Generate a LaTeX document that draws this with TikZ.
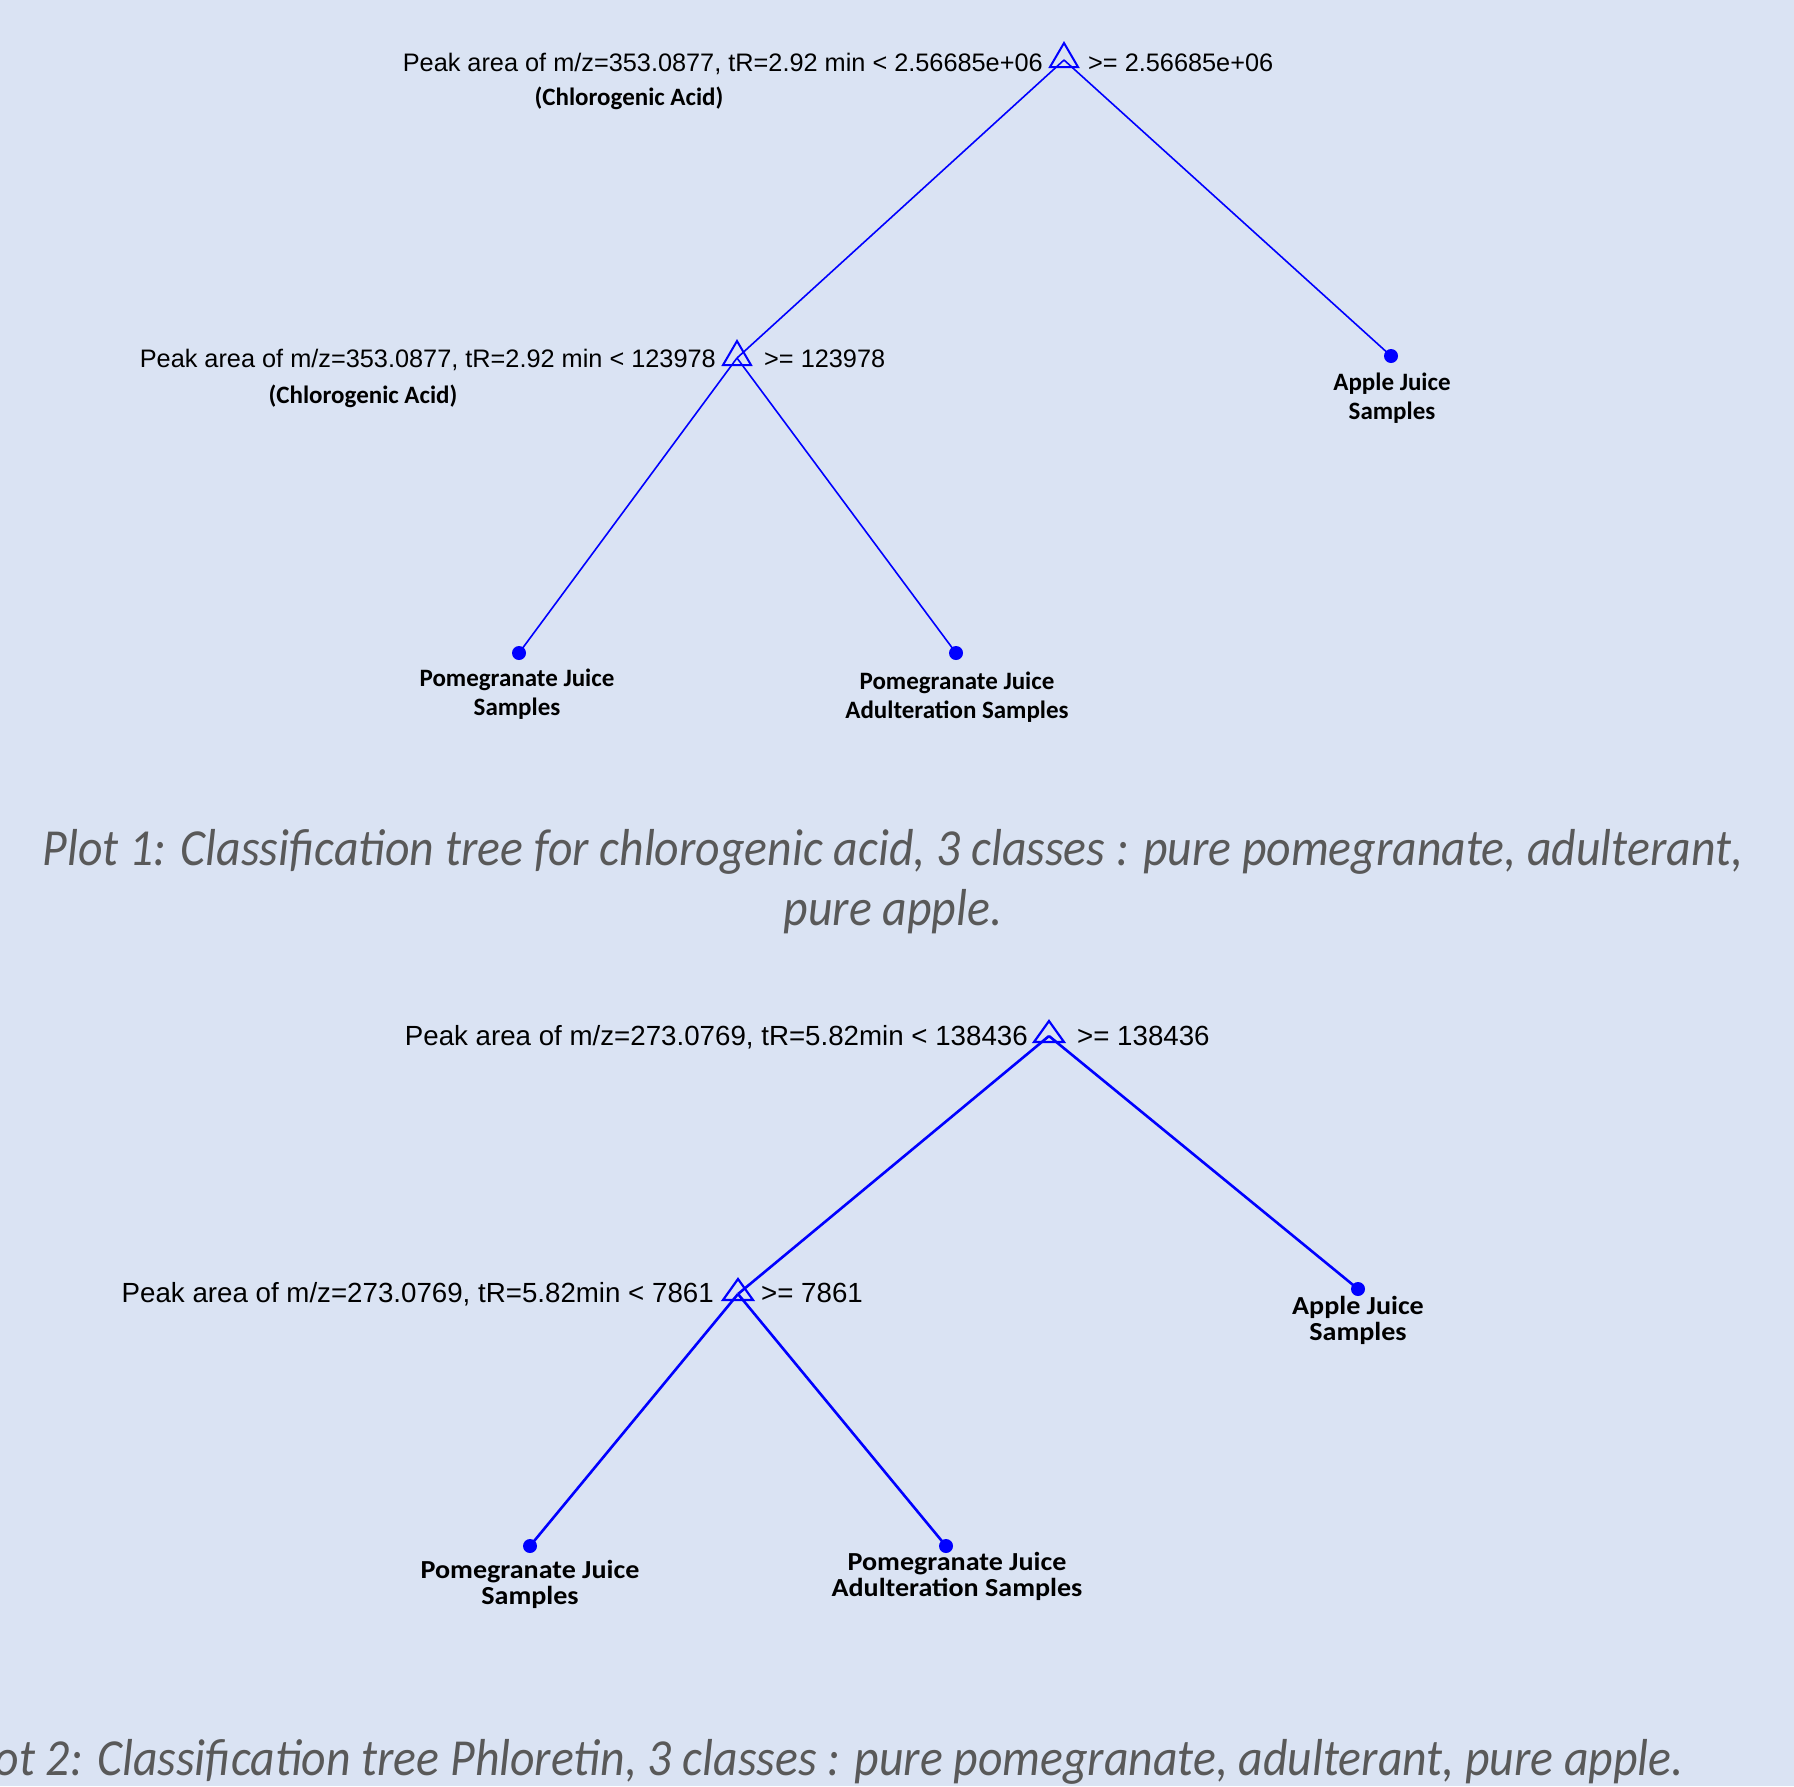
\documentclass[tikz,border=0pt]{standalone}
\usepackage{fontspec}
\setmainfont{Liberation Sans}
\newfontfamily\calfont{Carlito}
\definecolor{bg}{RGB}{218,227,243}
\definecolor{capgray}{RGB}{89,89,89}
\begin{document}
\begin{tikzpicture}[x=1pt,y=-1pt,
  edgeA/.style={blue, line width=1.6pt},
  edgeB/.style={blue, line width=2.6pt},
  leafA/.style={circle, fill=blue, inner sep=0pt, minimum size=14pt},
  condA/.style={inner sep=0pt, font=\fontsize{25.3}{30}\selectfont},
  condB/.style={inner sep=0pt, font=\fontsize{27.7}{33}\selectfont},
  clsA/.style={inner sep=0pt, align=center, font=\calfont\bfseries\fontsize{25}{29}\selectfont},
  clsB/.style={inner sep=0pt, align=center, xscale=1.08, font=\calfont\bfseries\fontsize{26}{26}\selectfont},
  capt/.style={inner sep=0pt, align=center, text=capgray, xscale=0.918, font=\calfont\itshape\fontsize{52}{60}\selectfont},
  triA/.pic={\draw[blue, line width=2pt] (0,-17) -- (14,7) -- (-14,7) -- cycle;},
  triB/.pic={\draw[blue, line width=2.2pt] (0,-15) -- (15,6) -- (-15,6) -- cycle;}
]
\fill[bg] (0,0) rectangle (1794,1786);
\useasboundingbox (0,0) rectangle (1794,1786);

% ---------- Plot 1 ----------
\coordinate (r1) at (1064,60);
\coordinate (c1) at (737,358);
\node[leafA] (a1) at (1391,356) {};
\node[leafA] (p1) at (519,653) {};
\node[leafA] (d1) at (956,653) {};
\draw[edgeA] (r1) -- (c1);
\draw[edgeA] (r1) -- (a1.center);
\draw[edgeA] (c1) -- (p1.center);
\draw[edgeA] (c1) -- (d1.center);
\pic at (r1) {triA};
\pic at (c1) {triA};

\node[condA, anchor=base east] (t1L) at (1043,71) {Peak area of m/z=353.0877, tR=2.92 min < 2.56685e+06};
\node[condA, anchor=base west] (t1R) at (1088,71) {>= 2.56685e+06};
\node[clsA] (ch1) at (629,98) {(Chlorogenic Acid)};
\node[condA, anchor=base east] (t2L) at (716,367) {Peak area of m/z=353.0877, tR=2.92 min < 123978};
\node[condA, anchor=base west] (t2R) at (764,367) {>= 123978};
\node[clsA] (ch2) at (363,396) {(Chlorogenic Acid)};

\node[clsA] (lp1) at (517,694) {Pomegranate Juice\\Samples};
\node[clsA] (ld1) at (957,697) {Pomegranate Juice\\Adulteration Samples};
\node[clsA] (la1) at (1392,398) {Apple Juice\\Samples};

\node[capt] (cap1) at (893,882) {Plot 1: Classification tree for chlorogenic acid, 3 classes : pure pomegranate, adulterant,\\pure apple.};

% ---------- Plot 2 ----------
\coordinate (r2) at (1049,1036);
\coordinate (c2) at (738,1294);
\node[leafA] (a2) at (1358,1289) {};
\node[leafA] (p2) at (530,1546) {};
\node[leafA] (d2) at (946,1546) {};
\draw[edgeB] (r2) -- (c2);
\draw[edgeB] (r2) -- (a2.center);
\draw[edgeB] (c2) -- (p2.center);
\draw[edgeB] (c2) -- (d2.center);
\pic at (r2) {triB};
\pic at (c2) {triB};

\node[condB, anchor=base east] (t3L) at (1028,1045) {Peak area of m/z=273.0769, tR=5.82min < 138436};
\node[condB, anchor=base west] (t3R) at (1077,1045) {>= 138436};
\node[condB, anchor=base east] (t4L) at (714,1302) {Peak area of m/z=273.0769, tR=5.82min < 7861};
\node[condB, anchor=base west] (t4R) at (761,1302) {>= 7861};

\node[clsB] (lp2) at (530,1584) {Pomegranate Juice\\Samples};
\node[clsB] (ld2) at (957,1576) {Pomegranate Juice\\Adulteration Samples};
\node[clsB] (la2) at (1358,1320) {Apple Juice\\Samples};

\node[capt, anchor=east] (cap2) at (1684,1762) {Plot 2: Classification tree Phloretin, 3 classes : pure pomegranate, adulterant, pure apple.};
\end{tikzpicture}
\end{document}
